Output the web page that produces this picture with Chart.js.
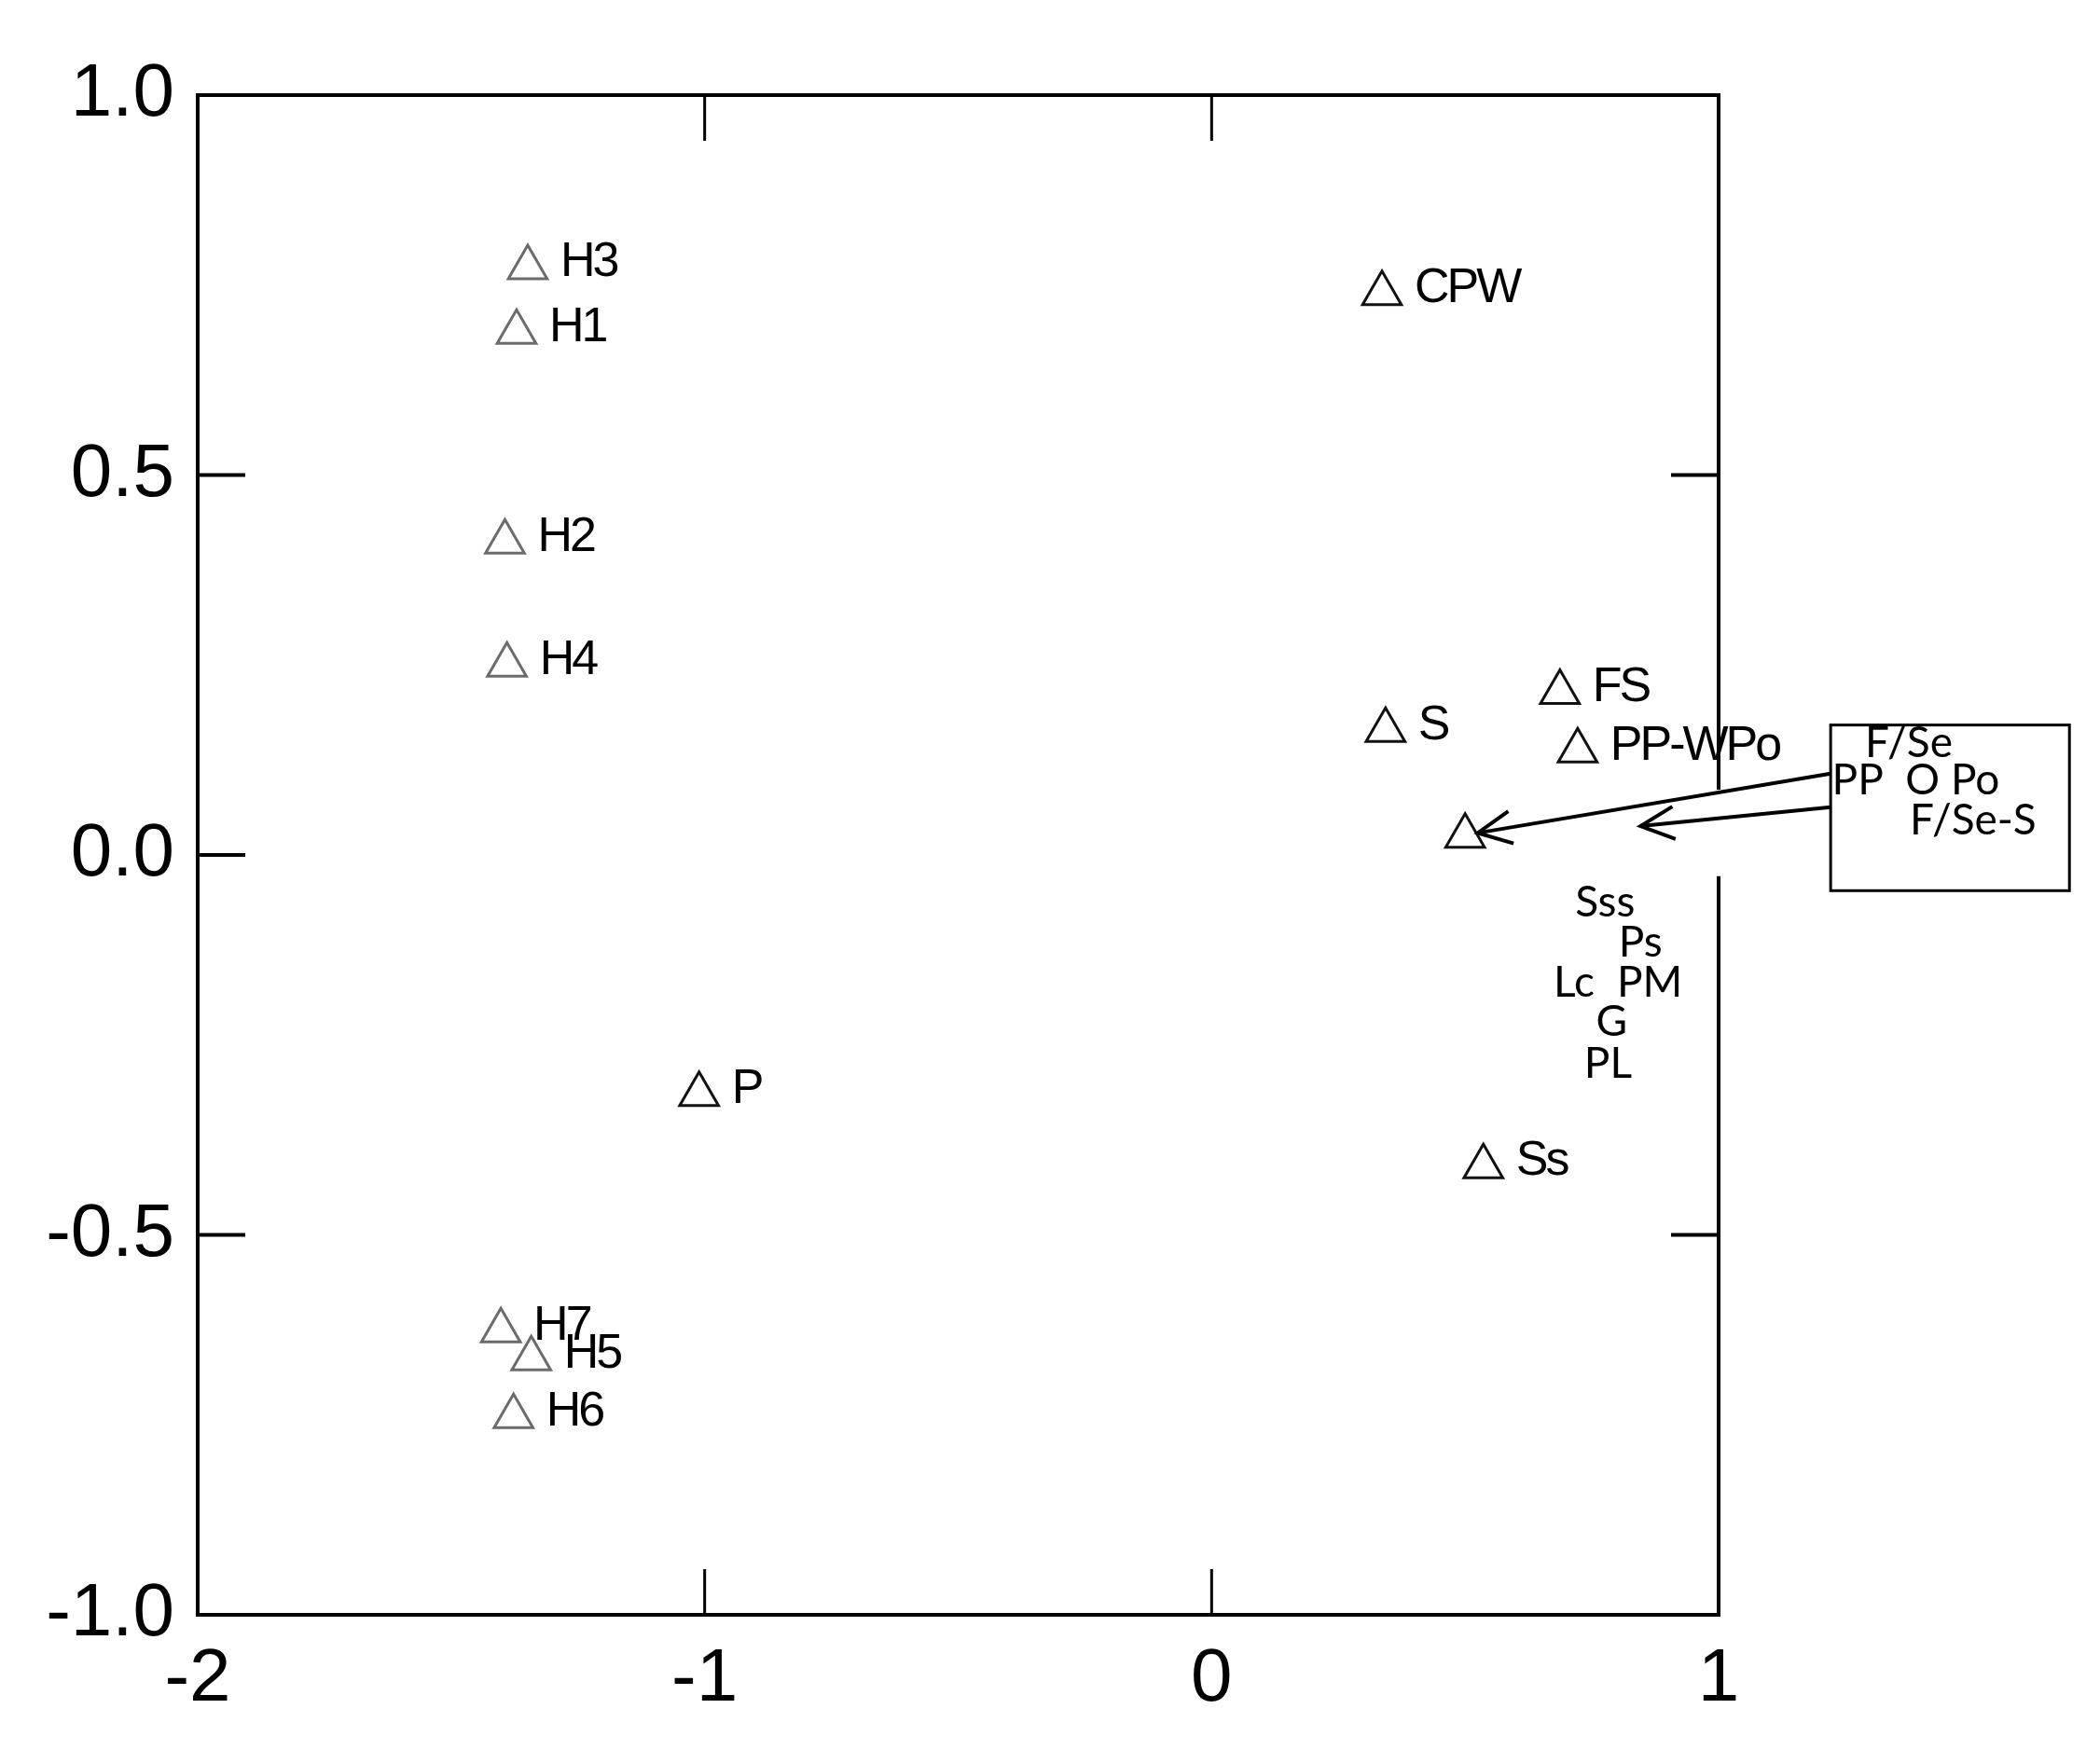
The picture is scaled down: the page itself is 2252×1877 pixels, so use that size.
<!DOCTYPE html>
<html>
<head>
<meta charset="utf-8">
<script src="https://cdn.jsdelivr.net/npm/chart.js@4.4.1/dist/chart.umd.min.js"></script>
<style>
  html, body { margin: 0; padding: 0; background: #fff; }
  #wrap { width: 2252px; height: 1877px; position: relative; }
</style>
</head>
<body>
<div id="wrap"><canvas id="ordination"></canvas></div>
<script>
// axis ticks
const xTicks = [-2, -1, 0, 1];
const yTicks = [-1.0, -0.5, 0.0, 0.5, 1.0];
const innerTicksX = [-1, 0];
const innerTicksY = [-0.5, 0, 0.5];
const rightGap = [0.086, -0.028]; // right border is broken where the arrows pass

// H samples (grey triangles)
const hNames = ['H3', 'H1', 'H2', 'H4', 'H7', 'H5', 'H6'];
const hX = [-1.349, -1.371, -1.394, -1.390, -1.402, -1.342, -1.377];
const hY = [0.773, 0.688, 0.412, 0.250, -0.626, -0.663, -0.739];

// other samples (black triangles)
const sNames = ['P', 'CPW', 'FS', 'S', 'PP-WPo', '', 'Ss'];
const sX = [-1.011, 0.336, 0.687, 0.343, 0.722, 0.500, 0.536];
const sY = [-0.315, 0.739, 0.214, 0.164, 0.137, 0.025, -0.410];

// text-only labels
const spNames = ['Sss', 'Ps', 'Lc', 'PM', 'G', 'PL'];
const spX = [0.776, 0.846, 0.715, 0.864, 0.789, 0.782];
const spY = [-0.063, -0.115, -0.168, -0.168, -0.220, -0.275];

// boxed group outside the plot, with two arrows pointing in
const boxX = [1.221, 1.692];
const boxY = [0.171, -0.047];
const boxNames = ['F/Se', 'PP  O Po', 'F/Se-S'];
const boxNameX = [1.289, 1.2235, 1.377];
const boxNameY = [0.147, 0.098, 0.045];
const arrowFromX = [1.221, 1.221];
const arrowFromY = [0.107, 0.063];
const arrowToX = [0.525, 0.846];
const arrowToY = [0.029, 0.038];

const toPts = (xs, ys) => xs.map((v, i) => ({ x: v, y: ys[i] }));

function line(ctx, x1, y1, x2, y2) {
    ctx.beginPath();
    ctx.moveTo(x1, y1);
    ctx.lineTo(x2, y2);
    ctx.stroke();
}

const framePlugin = {
    id: 'frame',
    afterDatasetsDraw(chart) {
        const { ctx, chartArea: a, scales: { x, y } } = chart;
        const gTop = y.getPixelForValue(rightGap[0]);
        const gBot = y.getPixelForValue(rightGap[1]);
        ctx.save();
        ctx.strokeStyle = '#000';
        ctx.lineWidth = 4;
        ctx.lineJoin = 'miter';
        ctx.beginPath();
        ctx.moveTo(a.right, gTop);
        ctx.lineTo(a.right, a.top);
        ctx.lineTo(a.left, a.top);
        ctx.lineTo(a.left, a.bottom);
        ctx.lineTo(a.right, a.bottom);
        ctx.lineTo(a.right, gBot);
        ctx.stroke();

        // ticks point inwards
        ctx.lineWidth = 3;
        innerTicksX.forEach(v => {
            const px = x.getPixelForValue(v);
            line(ctx, px, a.top, px, a.top + 49);
            line(ctx, px, a.bottom, px, a.bottom - 49);
        });
        ctx.lineWidth = 4;
        innerTicksY.forEach(v => {
            const py = y.getPixelForValue(v);
            line(ctx, a.left, py, a.left + 51, py);
            if (py < gTop || py > gBot) line(ctx, a.right, py, a.right - 51, py);
        });
        ctx.restore();
    }
};

const labelPlugin = {
    id: 'pointLabels',
    afterDatasetsDraw(chart) {
        const ctx = chart.ctx;
        ctx.save();
        ctx.fillStyle = '#000';
        ctx.textBaseline = 'middle';
        chart.data.datasets.forEach((ds, i) => {
            if (!ds.names) return;
            const meta = chart.getDatasetMeta(i);
            ctx.font = ds.nameFont;
            ctx.letterSpacing = ds.nameSpacing || '0px';
            ctx.textAlign = ds.nameAlign;
            meta.data.forEach((el, j) => {
                if (!ds.names[j]) return;
                ctx.fillText(ds.names[j], el.x + ds.nameDx, el.y + ds.nameDy);
            });
        });
        ctx.restore();
    }
};

const boxPlugin = {
    id: 'groupBox',
    afterDraw(chart) {
        const { ctx, scales: { x, y } } = chart;
        ctx.save();
        ctx.strokeStyle = '#000';
        ctx.lineWidth = 3;
        const bx1 = x.getPixelForValue(boxX[0]), bx2 = x.getPixelForValue(boxX[1]);
        const by1 = y.getPixelForValue(boxY[0]), by2 = y.getPixelForValue(boxY[1]);
        ctx.strokeRect(bx1, by1, bx2 - bx1, by2 - by1);

        ctx.fillStyle = '#000';
        ctx.font = '46px Lato, "Open Sans", sans-serif';
        ctx.textAlign = 'left';
        ctx.textBaseline = 'middle';
        boxNames.forEach((t, i) => {
            ctx.fillText(t, x.getPixelForValue(boxNameX[i]), y.getPixelForValue(boxNameY[i]));
        });

        // arrows with open heads
        ctx.lineWidth = 4;
        arrowFromX.forEach((fx, i) => {
            const x1 = x.getPixelForValue(fx), y1 = y.getPixelForValue(arrowFromY[i]);
            const x2 = x.getPixelForValue(arrowToX[i]), y2 = y.getPixelForValue(arrowToY[i]);
            line(ctx, x1, y1, x2, y2);
            const ang = Math.atan2(y1 - y2, x1 - x2);
            const len = 40, spread = 0.45;
            ctx.beginPath();
            ctx.moveTo(x2 + len * Math.cos(ang - spread), y2 + len * Math.sin(ang - spread));
            ctx.lineTo(x2, y2);
            ctx.lineTo(x2 + len * Math.cos(ang + spread), y2 + len * Math.sin(ang + spread));
            ctx.stroke();
        });
        ctx.restore();
    }
};

const siteFont = '52px "Liberation Sans", Arial, sans-serif';

new Chart(document.getElementById('ordination'), {
    type: 'scatter',
    data: {
        datasets: [
            {
                data: toPts(hX, hY),
                pointStyle: 'triangle',
                pointRadius: 24,
                borderColor: '#6b6b6b',
                backgroundColor: 'rgba(0,0,0,0)',
                borderWidth: 3,
                names: hNames, nameFont: siteFont, nameSpacing: '-3px',
                nameAlign: 'left', nameDx: 35, nameDy: -5
            },
            {
                data: toPts(sX, sY),
                pointStyle: 'triangle',
                pointRadius: 24,
                borderColor: '#111',
                backgroundColor: 'rgba(0,0,0,0)',
                borderWidth: 3,
                names: sNames, nameFont: siteFont, nameSpacing: '-3px',
                nameAlign: 'left', nameDx: 35, nameDy: -5
            },
            {
                data: toPts(spX, spY),
                pointRadius: 0,
                names: spNames, nameFont: '46px Lato, "Open Sans", sans-serif',
                nameAlign: 'center', nameDx: 0, nameDy: 0
            }
        ]
    },
    options: {
        responsive: true,
        maintainAspectRatio: false,
        animation: false,
        events: [],
        layout: { padding: { top: 102, right: 409, left: 0, bottom: 0 } },
        plugins: { legend: { display: false }, tooltip: { enabled: false } },
        scales: {
            x: {
                type: 'linear', min: -2, max: 1,
                afterBuildTicks: s => { s.ticks = xTicks.map(v => ({ value: v })); },
                afterFit: s => { s.height = 145; },
                grid: { display: false, drawTicks: false },
                border: { display: false },
                ticks: {
                    color: '#000', padding: 22,
                    font: { family: '"Liberation Sans", Arial, sans-serif', size: 80 },
                    callback: v => String(v)
                }
            },
            y: {
                type: 'linear', min: -1, max: 1,
                afterBuildTicks: s => { s.ticks = yTicks.map(v => ({ value: v })); },
                afterFit: s => { s.width = 212; },
                grid: { display: false, drawTicks: false },
                border: { display: false },
                ticks: {
                    color: '#000', padding: 25,
                    font: { family: '"Liberation Sans", Arial, sans-serif', size: 80 },
                    callback: v => v.toFixed(1)
                }
            }
        }
    },
    plugins: [framePlugin, labelPlugin, boxPlugin]
});
</script>
</body>
</html>
